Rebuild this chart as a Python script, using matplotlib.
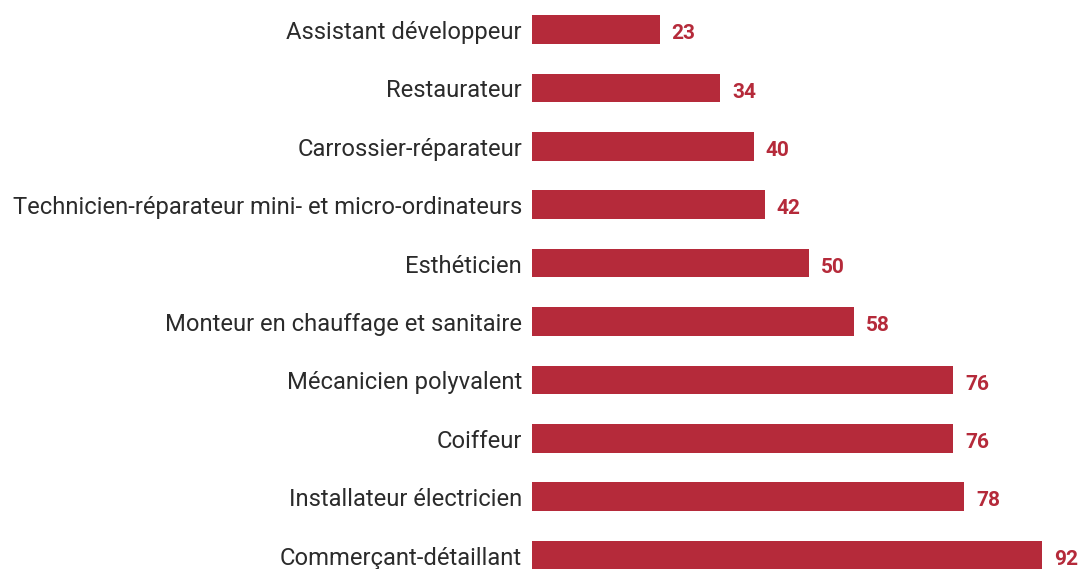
import matplotlib.pyplot as plt

categories = ["Assistant développeur", "Restaurateur", "Carrossier-réparateur",
              "Technicien-réparateur mini- et micro-ordinateurs", "Esthéticien",
              "Monteur en chauffage et sanitaire", "Mécanicien polyvalent",
              "Coiffeur", "Installateur électricien", "Commerçant-détaillant"]
values = [23, 34, 40, 42, 50, 58, 76, 76, 78, 92]

plt.rcParams['font.family'] = ['Roboto', 'DejaVu Sans']
W, H = 1083, 569
fig = plt.figure(figsize=(W/100, H/100), dpi=100)
ax = fig.add_axes([532/W, 0, (1042-532)/W, 1])
color = '#B52A3A'
pos = list(range(len(categories)))
ax.barh(pos, values, height=0.49, color=color)
ax.set_xlim(0, 92)
ax.set_ylim((569-29.5)/58.4, -29.5/58.4)
ax.set_yticks([])
ax.set_xticks([])
for s in ax.spines.values():
    s.set_visible(False)
ytr = ax.get_yaxis_transform()
for p, c in zip(pos, categories):
    ax.annotate(c, xy=(0, p), xycoords=ytr, xytext=(-10, -9.5),
                textcoords='offset pixels', ha='right', va='baseline',
                fontsize=17.1, color='#2b2b2b', annotation_clip=False)
for p, v in zip(pos, values):
    ax.annotate(str(v), xy=(v, p), xycoords='data', xytext=(12, -9.8),
                textcoords='offset pixels', ha='left', va='baseline',
                fontsize=15, fontweight='bold', color=color,
                annotation_clip=False)
fig.savefig('out.png', dpi=100)
